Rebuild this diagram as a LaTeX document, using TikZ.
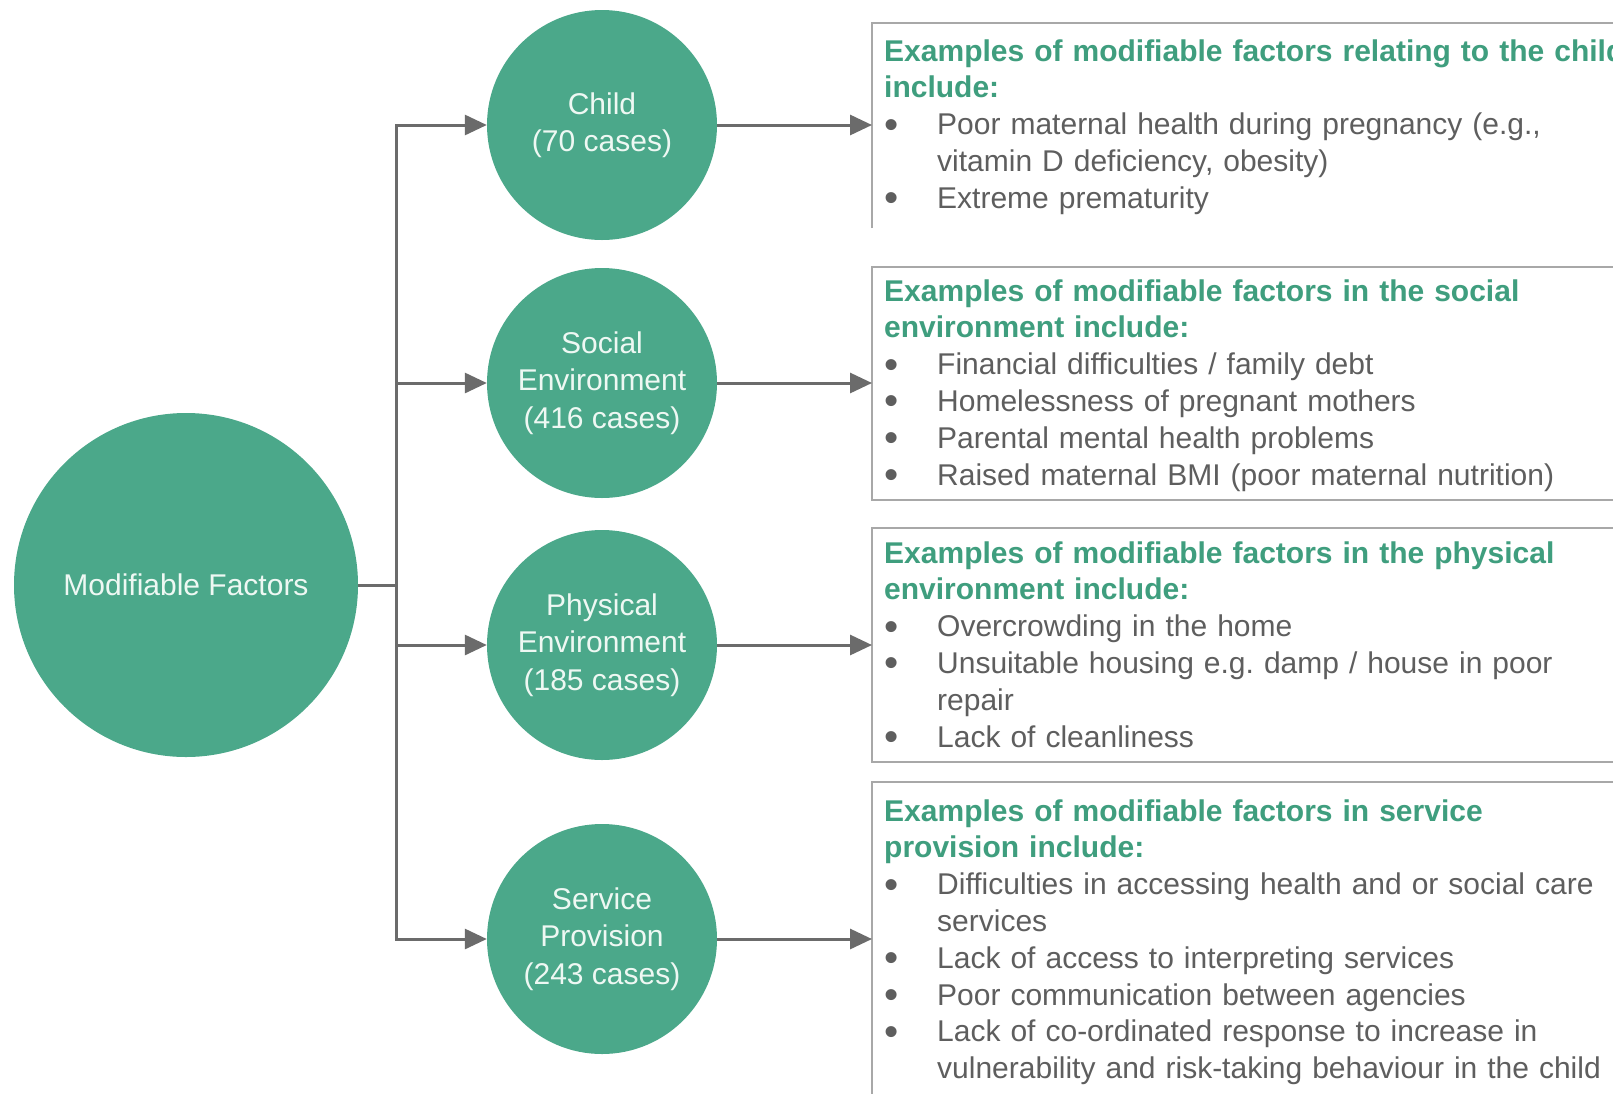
\documentclass[tikz,border=0pt]{standalone}
\usepackage{fontspec}
\setmainfont{Liberation Sans}
\usetikzlibrary{arrows.meta}
\frenchspacing
\definecolor{circfill}{HTML}{4BA88A}
\definecolor{hdgreen}{HTML}{3F9E7E}
\definecolor{bodygray}{HTML}{5E5E5E}
\definecolor{arrgray}{HTML}{6B6B6B}
\definecolor{boxgray}{HTML}{A8A8A8}
\definecolor{circtext}{HTML}{EEF8F3}
\newcommand{\bulitem}{\makebox[53pt][l]{\raisebox{-3.5pt}{\scalebox{1.35}{•}}}}
\newcommand{\contind}{\hspace*{53pt}}
\newcommand{\hdtext}[1]{{\color{hdgreen}\bfseries #1}}
\begin{document}
\begin{tikzpicture}[x=1pt,y=-1pt,
  circbase/.style={circle, fill=circfill, text=circtext, inner sep=0pt, align=center,
    font=\fontsize{30}{37.5}\selectfont},
  bigcirc/.style={circbase, minimum size=344pt},
  smallcirc/.style={circbase, minimum size=230pt},
  conn/.style={draw=arrgray, line width=3pt},
  arr/.style={conn, -{Triangle[length=22pt,width=20pt]}},
  boxline/.style={draw=boxgray, line width=2pt},
  frame/.style={rectangle, draw=none, inner sep=0pt, minimum width=742pt, anchor=north west},
  txt/.style={anchor=base west, inner sep=0pt, text width=800pt, align=left, text=bodygray,
    font=\fontsize{30}{36.8}\selectfont},
]
\fill[white] (0,0) rectangle (1613,1093);
\useasboundingbox (0,0) rectangle (1613,1093);
\begin{scope}
\clip (0,0) rectangle (1613,1093);

% circles
\node[bigcirc] (mf) at (186,585) {Modifiable Factors};
\node[smallcirc] (child) at (602,125) {Child\\(70 cases)};
\node[smallcirc] (social) at (602,383) {Social\\Environment\\(416 cases)};
\node[smallcirc] (physical) at (602,645) {Physical\\Environment\\(185 cases)};
\node[smallcirc] (service) at (602,939) {Service\\Provision\\(243 cases)};

% box frames
\node[frame, minimum height=205pt] (b1) at (872,22.7) {};
\node[frame, minimum height=233pt] (b2) at (872,267) {};
\node[frame, minimum height=234pt] (b3) at (872,528) {};
\node[frame, minimum height=320pt] (b4) at (872,782) {};
\draw[boxline] (b1.south west) -- (b1.north west) -- (b1.north east);
\draw[boxline] (b2.north east) -- (b2.north west) -- (b2.south west) -- (b2.south east);
\draw[boxline] (b3.north east) -- (b3.north west) -- (b3.south west) -- (b3.south east);
\draw[boxline] (b4.south west) -- (b4.north west) -- (b4.north east);

% connectors
\coordinate (trunk) at (396,585);
\draw[conn] (mf.east) -- (trunk);
\draw[conn, line cap=rect] (trunk |- child) -- (trunk |- service);
\draw[arr] (trunk |- child) -- (child.west);
\draw[arr] (trunk |- social) -- (social.west);
\draw[arr] (trunk |- physical) -- (physical.west);
\draw[arr] (trunk |- service) -- (service.west);
\draw[arr] (child.east) -- (child.east -| b1.west);
\draw[arr] (social.east) -- (social.east -| b2.west);
\draw[arr] (physical.east) -- (physical.east -| b3.west);
\draw[arr] (service.east) -- (service.east -| b4.west);

% texts
\node[txt] (t1) at (884,61) {\hdtext{Examples of modifiable factors relating to the child\\include:}\\
\bulitem Poor maternal health during pregnancy (e.g.,\\
\contind vitamin D deficiency, obesity)\\
\bulitem Extreme prematurity};

\node[txt] (t2) at (884,301) {\hdtext{Examples of modifiable factors in the social\\environment include:}\\
\bulitem Financial difficulties / family debt\\
\bulitem Homelessness of pregnant mothers\\
\bulitem Parental mental health problems\\
\bulitem Raised maternal BMI (poor maternal nutrition)};

\node[txt] (t3) at (884,563) {\hdtext{Examples of modifiable factors in the physical\\environment include:}\\
\bulitem Overcrowding in the home\\
\bulitem Unsuitable housing e.g. damp / house in poor\\
\contind repair\\
\bulitem Lack of cleanliness};

\node[txt] (t4) at (884,821) {\hdtext{Examples of modifiable factors in service\\provision include:}\\
\bulitem Difficulties in accessing health and or social care\\
\contind services\\
\bulitem Lack of access to interpreting services\\
\bulitem Poor communication between agencies\\
\bulitem Lack of co-ordinated response to increase in\\
\contind vulnerability and risk-taking behaviour in the child};
\end{scope}
\end{tikzpicture}
\end{document}
